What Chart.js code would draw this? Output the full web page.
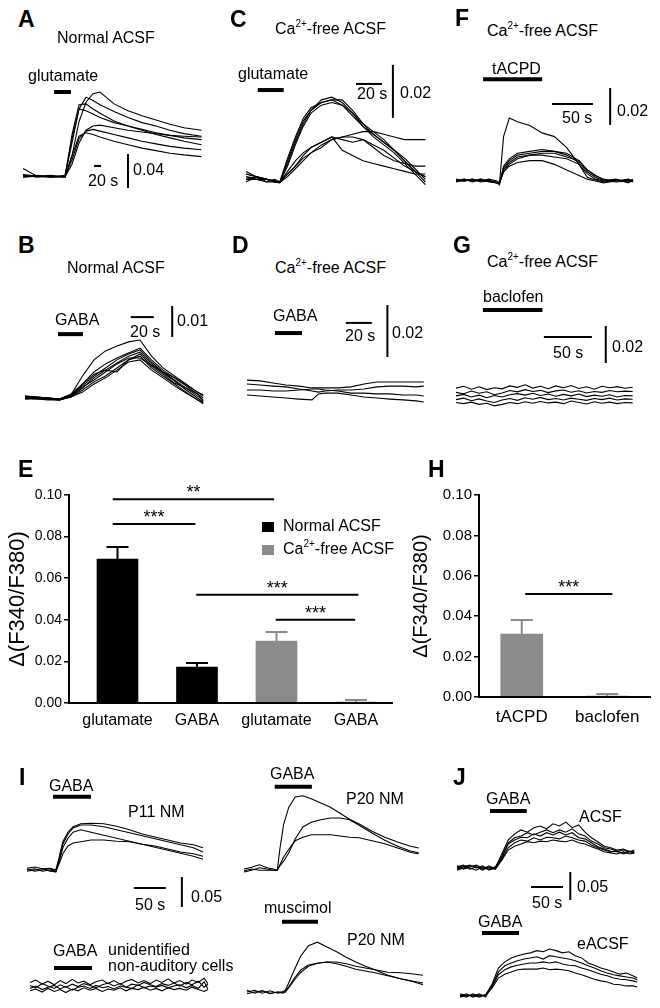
<!DOCTYPE html>
<html>
<head>
<meta charset="utf-8">
<script src="https://cdn.jsdelivr.net/npm/chart.js@4.4.0/dist/chart.umd.min.js"></script>
<style>
  body { margin: 0; background: #fff; }
  #page { position: relative; width: 660px; height: 1008px; overflow: hidden; font-family: "Liberation Sans", Arial, sans-serif; color: #000; }
  canvas { position: absolute; }
  .t { position: absolute; white-space: nowrap; line-height: 1; }
  .t sup { font-size: 10px; vertical-align: 0; position: relative; top: -7px; }
  .sq { position: absolute; width: 12px; height: 10px; }
</style>
</head>
<body>
<div id="page"></div>
<script>
// ---------- bar charts (E, H) ----------
const labelsE = ['glutamate', 'GABA', 'glutamate', 'GABA'];
const meanE = [0.0692, 0.0173, 0.0298, 0.0005];
const semE = [0.0058, 0.0019, 0.0043, 0.0010];
const groupE = [0, 0, 1, 1];
const groupNamesE = ['Normal ACSF', 'Ca2+-free ACSF'];
const legendE = ['Normal ACSF', 'Ca<sup>2+</sup>-free ACSF'];
const colorsE = ['#000000', '#8a8a8a'];
// significance bars: from, to (bar index), height, text
const sigFromE = [-0.06, -0.06, 0.99, 1.99];
const sigToE = [1.97, 0.98, 3.03, 2.99];
const sigYE = [0.098, 0.086, 0.052, 0.040];
const sigTextE = ['**', '***', '***', '***'];

const labelsH = ['tACPD', 'baclofen'];
const meanH = [0.0312, 0.0005];
const semH = [0.0069, 0.0010];
const sigFromH = [0.04];
const sigToH = [1.06];
const sigYH = [0.051];
const sigTextH = ['***'];

// ---------- traces (time in s, value = delta F340/F380) ----------
// A  glutamate, normal ACSF
const timesA = [0, 40, 80, 120, 140, 160, 180, 200, 220, 260, 300, 340, 380, 420, 460, 510];
const tracesA = [
  [0.002, 0, 0.001, 0, 0.025, 0.065, 0.088, 0.098, 0.100, 0.086, 0.078, 0.072, 0.067, 0.062, 0.058, 0.055],
  [0, 0.002, 0, 0.001, 0.040, 0.080, 0.094, 0.090, 0.085, 0.077, 0.070, 0.064, 0.060, 0.055, 0.051, 0.048],
  [0.010, 0.001, 0.002, 0, 0.050, 0.085, 0.086, 0.080, 0.075, 0.066, 0.060, 0.055, 0.050, 0.046, 0.042, 0.038],
  [0, 0.001, 0, 0.002, 0.045, 0.080, 0.078, 0.074, 0.070, 0.064, 0.060, 0.056, 0.052, 0.049, 0.046, 0.044],
  [0.002, 0, 0.001, 0, 0.015, 0.040, 0.055, 0.060, 0.061, 0.058, 0.055, 0.053, 0.051, 0.049, 0.048, 0.047],
  [0, 0.001, 0, 0.001, 0.020, 0.045, 0.054, 0.056, 0.054, 0.050, 0.046, 0.042, 0.039, 0.036, 0.034, 0.032],
  [0.003, 0.001, 0, 0, 0.025, 0.048, 0.052, 0.050, 0.047, 0.042, 0.038, 0.034, 0.031, 0.028, 0.026, 0.024]
];
const stimA = [89, 137, 0.100];
const scaleA = [203, 0.013, 20, 300, -0.013, 0.04];

// C  glutamate, Ca-free
const timesC = [0, 8, 16, 22, 26, 32, 38, 44, 50, 58, 66, 74, 82, 90, 98, 106, 114, 122, 130, 138];
const tracesC = [
  [0.002, 0.0015, 0.001, 0.0005, 0, 0.008, 0.016, 0.023, 0.027, 0.031, 0.032, 0.030, 0.026, 0.021, 0.018, 0.015, 0.012, 0.008, 0.004, 0.000],
  [0.003, 0.002, 0.001, 0, -0.0003, 0.007, 0.015, 0.022, 0.027, 0.030, 0.031, 0.031, 0.027, 0.022, 0.019, 0.016, 0.012, 0.009, 0.005, 0.001],
  [0.001, 0.002, 0, 0.001, 0, 0.009, 0.017, 0.024, 0.028, 0.030, 0.031, 0.029, 0.025, 0.021, 0.017, 0.014, 0.011, 0.007, 0.003, -0.001],
  [0.004, 0.002, 0.001, 0, 0, 0.006, 0.014, 0.021, 0.026, 0.029, 0.030, 0.029, 0.026, 0.022, 0.018, 0.015, 0.012, 0.008, 0.004, 0.002],
  [0.001, 0.001, 0, 0, 0, 0.003, 0.006, 0.009, 0.011, 0.013, 0.016, 0.017, 0.018, 0.019, 0.019, 0.018, 0.017, 0.016, 0.016, 0.016],
  [0.002, 0.001, 0.001, 0, 0, 0.004, 0.008, 0.011, 0.013, 0.015, 0.017, 0.016, 0.015, 0.016, 0.013, 0.010, 0.008, 0.007, 0.006, 0.006],
  [0, 0.002, 0.001, 0.0005, 0, 0.003, 0.006, 0.010, 0.013, 0.015, 0.017, 0.012, 0.010, 0.008, 0.007, 0.006, 0.005, 0.004, 0.003, 0.003],
  [0.003, 0.002, 0.001, 0, -0.0003, 0.002, 0.005, 0.008, 0.011, 0.014, 0.016, 0.017, 0.017, 0.016, 0.014, 0.012, 0.009, 0.006, 0.004, 0.002]
];
const stimC = [9, 29, 0.0347];
const scaleC = [84.6, 0.037, 20, 113, 0.0242, 0.02];

// F  tACPD, Ca-free
const timesF = [0, 10, 20, 30, 40, 50, 53, 58, 65, 75, 90, 105, 120, 135, 150, 160, 170, 180, 195, 210, 216];
const tracesF = [
  [0, 0.001, -0.0005, 0.0005, 0, -0.001, -0.0015, 0.024, 0.034, 0.032, 0.030, 0.026, 0.024, 0.018, 0.009, 0.002, 0.0005, -0.0005, 0.0005, -0.0005, 0],
  [0.001, 0, 0.001, 0, 0.0005, -0.001, -0.0015, 0.008, 0.012, 0.015, 0.016, 0.017, 0.016, 0.015, 0.011, 0.006, 0.003, 0.001, 0, 0.001, 0],
  [0, 0.001, 0, 0.001, -0.0005, -0.001, -0.002, 0.007, 0.011, 0.014, 0.015, 0.016, 0.016, 0.014, 0.010, 0.005, 0.002, 0, 0.001, -0.001, 0.0005],
  [0.0005, 0, 0.001, -0.0005, 0, -0.0005, -0.001, 0.006, 0.010, 0.013, 0.014, 0.015, 0.015, 0.013, 0.011, 0.006, 0.003, 0.0005, -0.0005, 0, 0.001],
  [-0.0005, 0.0005, 0, 0.001, 0, -0.001, -0.001, 0.005, 0.009, 0.012, 0.014, 0.014, 0.013, 0.012, 0.009, 0.004, 0.001, 0, 0.0005, 0, -0.0005],
  [0, 0, 0.0005, 0, 0.001, 0, -0.001, 0.005, 0.008, 0.010, 0.011, 0.011, 0.009, 0.006, 0.003, 0.001, 0, -0.001, 0, 0.0005, 0]
];
const stimF = [33, 105, 0.055];
const scaleF = [117, 0.0416, 50, 188, 0.0303, 0.02];

// B  GABA, normal ACSF
const timesB = [0, 10, 20, 30, 40, 50, 60, 70, 80, 90, 100, 110, 120, 130, 140, 150, 155];
const tracesB = [
  [0.0006, 0.0003, 0, -0.0003, 0.001, 0.0071, 0.0123, 0.0152, 0.0168, 0.0181, 0.0187, 0.0135, 0.0097, 0.0071, 0.0045, 0.0019, 0.0006],
  [0.0003, 0, -0.0003, -0.0006, 0.0006, 0.0045, 0.0084, 0.011, 0.0129, 0.0145, 0.0161, 0.0123, 0.009, 0.0065, 0.0039, 0.0013, 0],
  [0, 0.0003, 0, -0.0003, 0.001, 0.0039, 0.0071, 0.0097, 0.0123, 0.0142, 0.0155, 0.0116, 0.0084, 0.0058, 0.0032, 0.0006, -0.0006],
  [-0.0003, 0, -0.0003, -0.0006, 0.0006, 0.0032, 0.0065, 0.009, 0.0113, 0.0135, 0.0148, 0.011, 0.0081, 0.0055, 0.0026, 0, -0.0013],
  [0.0003, 0, 0, -0.0003, 0.0013, 0.0045, 0.0077, 0.009, 0.0084, 0.0123, 0.0142, 0.0103, 0.0077, 0.0048, 0.0032, 0.0013, -0.001],
  [0, -0.0003, -0.0003, -0.0006, 0.0003, 0.0026, 0.0052, 0.0071, 0.0097, 0.0123, 0.0135, 0.0097, 0.0071, 0.0045, 0.0019, -0.0006, -0.0019],
  [0.0006, 0.0003, 0, -0.0003, 0.0006, 0.0035, 0.0058, 0.0084, 0.011, 0.0129, 0.0129, 0.0106, 0.0084, 0.0065, 0.0042, 0.0019, 0.001],
  [-0.0003, -0.0003, -0.0006, -0.0006, 0.0003, 0.0019, 0.0045, 0.0065, 0.009, 0.0116, 0.0123, 0.009, 0.0065, 0.0039, 0.0016, -0.0006, -0.0016]
];
const stimB = [28.7, 50.4, 0.0206];
const scaleB = [92, 0.0261, 20, 128, 0.0197, 0.01];

// D  GABA, Ca-free
const timesD = [0, 10, 20, 30, 40, 50, 55, 60, 70, 80, 90, 100, 110, 120, 130, 136];
const tracesD = [
  [0.0038, 0.0035, 0.0027, 0.0019, 0.0015, 0.0008, 0.0008, 0.0008, 0.0008, 0.0012, 0.0023, 0.0031, 0.0031, 0.0031, 0.0031, 0.0031],
  [0.0023, 0.0019, 0.0015, 0.0012, 0.0004, -0.0004, -0.0008, -0.0004, 0, 0, 0.0004, 0.0012, 0.0015, 0.0015, 0.0012, 0.0015],
  [0, 0, -0.0004, -0.0004, 0, 0.0004, 0.0004, 0, -0.0004, -0.0012, -0.0012, -0.0015, -0.0015, -0.0019, -0.0019, -0.0023],
  [-0.0019, -0.0023, -0.0027, -0.0031, -0.0035, -0.0038, -0.0015, -0.0012, -0.0012, -0.0019, -0.0027, -0.0031, -0.0035, -0.0038, -0.0042, -0.0046]
];
const stimD = [21.5, 42.3, 0.0219];
const scaleD = [76, 0.0258, 20, 108, 0.0127, 0.02];

// G  baclofen, Ca-free
const timesG = [0, 8, 16, 24, 32, 40, 48, 56, 64, 72, 80, 88, 96, 104, 112, 120, 128, 136, 144, 152, 160, 168, 176, 184];
const tracesG = [
  [0.0048, 0.0058, 0.0042, 0.0055, 0.0040, 0.0050, 0.0044, 0.0060, 0.0052, 0.0066, 0.0048, 0.0058, 0.0045, 0.0060, 0.0050, 0.0062, 0.0046, 0.0055, 0.0042, 0.0058, 0.0050, 0.0056, 0.0047, 0.0053],
  [0.0025, 0.0018, 0.0032, 0.0020, 0.0028, 0.0012, 0.0022, 0.0035, 0.0028, 0.0040, 0.0030, 0.0036, 0.0024, 0.0033, 0.0038, 0.0026, 0.0034, 0.0022, 0.0030, 0.0025, 0.0035, 0.0028, 0.0032, 0.0030],
  [0.0006, 0.0014, 0.0000, 0.0010, -0.0004, 0.0008, 0.0000, 0.0012, 0.0018, 0.0010, 0.0020, 0.0008, 0.0016, 0.0004, 0.0014, 0.0006, 0.0016, 0.0002, 0.0010, 0.0004, 0.0012, 0.0000, 0.0008, 0.0006],
  [-0.0014, -0.0006, -0.0020, -0.0010, -0.0022, -0.0030, -0.0016, -0.0008, -0.0018, -0.0004, -0.0012, -0.0002, -0.0014, -0.0008, -0.0016, -0.0006, -0.0012, -0.0018, -0.0008, -0.0014, -0.0006, -0.0016, -0.0010, -0.0012],
  [-0.0030, -0.0036, -0.0028, -0.0040, -0.0034, -0.0048, -0.0040, -0.0030, -0.0036, -0.0026, -0.0034, -0.0024, -0.0032, -0.0028, -0.0036, -0.0022, -0.0030, -0.0038, -0.0026, -0.0034, -0.0028, -0.0036, -0.0030, -0.0032]
];
const stimG = [28, 90, 0.047];
const scaleG = [91.5, 0.0324, 50, 156, 0.0184, 0.02];

// I  P11 NM, GABA
const timesI1 = [0, 12, 24, 36, 45, 50, 56, 64, 72, 84, 100, 120, 140, 160, 180, 200, 220, 240, 260, 275];
const tracesI1 = [
  [0.003, 0.005, 0.002, 0.003, 0, 0.020, 0.047, 0.063, 0.072, 0.077, 0.078, 0.077, 0.073, 0.067, 0.060, 0.055, 0.050, 0.045, 0.042, 0.037],
  [-0.002, 0, 0.002, -0.002, -0.003, 0.017, 0.043, 0.060, 0.070, 0.075, 0.075, 0.072, 0.067, 0.062, 0.057, 0.052, 0.047, 0.042, 0.037, 0.030],
  [0.002, -0.002, 0, 0.002, -0.002, 0.013, 0.037, 0.053, 0.063, 0.067, 0.063, 0.058, 0.053, 0.048, 0.043, 0.038, 0.033, 0.028, 0.023, 0.018],
  [0, 0.002, -0.002, 0, -0.003, 0.010, 0.027, 0.040, 0.045, 0.047, 0.050, 0.050, 0.048, 0.047, 0.043, 0.040, 0.035, 0.030, 0.027, 0.023]
];
const stimI1 = [40.6, 100, 0.122];
const scaleI1 = [167, -0.030, 50, 242, -0.0617, 0.05];

// I  unidentified non-auditory cells, GABA
const timesI2 = [0, 9, 19, 28, 38, 47, 56, 66, 75, 84, 94, 103, 113, 122, 131, 141, 150, 159, 169, 178, 188, 197, 206, 216, 225, 234, 244, 253, 263, 272, 278];
const tracesI2 = [
  [0.006, 0.010, 0.003, 0.008, 0.002, 0.009, 0.004, 0.011, 0.005, 0.008, 0.002, 0.007, 0.010, 0.004, 0.009, 0.003, 0.008, 0.011, 0.005, 0.009, 0.004, 0.010, 0.006, 0.012, 0.005, 0.009, 0.003, 0.010, 0.006, 0.013, 0.004],
  [0.001, -0.003, 0.004, 0, -0.004, 0.002, -0.002, 0.003, -0.001, 0.004, 0.001, -0.003, 0.002, 0.005, 0, 0.004, -0.002, 0.003, 0.001, 0.006, 0.002, -0.001, 0.004, 0.001, 0.005, 0, 0.006, 0.002, 0.008, -0.002, 0.003],
  [-0.004, 0, -0.006, -0.002, 0.001, -0.005, -0.001, -0.007, -0.002, 0, -0.004, 0.001, -0.003, -0.001, -0.005, 0, -0.002, -0.004, 0.002, -0.003, 0, -0.002, 0.001, -0.003, 0, 0.002, -0.003, 0.001, -0.004, 0.007, -0.005],
  [-0.008, -0.005, -0.010, -0.004, -0.009, -0.006, -0.011, -0.005, -0.008, -0.003, -0.007, -0.004, -0.009, -0.005, -0.007, -0.003, -0.008, -0.004, -0.006, -0.002, -0.007, -0.004, -0.008, -0.003, -0.006, -0.004, -0.007, -0.002, -0.006, -0.009, -0.006]
];
const stimI2 = [37.5, 96.9, 0.030];

// I  P20 NM, GABA
const timesI3 = [0, 12, 24, 36, 46, 52, 56, 62, 70, 80, 92, 105, 120, 135, 150, 165, 180, 200, 220, 240, 260, 273];
const tracesI3 = [
  [0, 0.003, 0.007, 0.002, 0, -0.002, 0.033, 0.075, 0.103, 0.120, 0.122, 0.117, 0.110, 0.103, 0.093, 0.083, 0.075, 0.063, 0.053, 0.045, 0.038, 0.035],
  [-0.005, -0.002, 0.002, 0, -0.002, -0.002, 0.005, 0.013, 0.027, 0.050, 0.070, 0.078, 0.082, 0.085, 0.085, 0.082, 0.073, 0.060, 0.048, 0.038, 0.030, 0.027],
  [-0.003, 0, -0.002, -0.002, -0.002, -0.002, 0.007, 0.020, 0.033, 0.047, 0.053, 0.057, 0.057, 0.057, 0.055, 0.053, 0.052, 0.047, 0.042, 0.035, 0.028, 0.025]
];
const stimI3 = [48, 106, 0.137];

// I  P20 NM, muscimol
const timesI4 = [0, 12, 24, 36, 48, 56, 60, 66, 74, 84, 96, 110, 125, 140, 155, 170, 185, 200, 220, 240, 260, 275];
const tracesI4 = [
  [0.003, -0.002, 0.002, -0.003, 0, 0, 0.003, 0.017, 0.037, 0.060, 0.077, 0.083, 0.075, 0.067, 0.058, 0.050, 0.043, 0.037, 0.028, 0.022, 0.017, 0.012],
  [0, 0.003, -0.002, 0.002, -0.002, 0, 0.002, 0.010, 0.023, 0.037, 0.045, 0.048, 0.050, 0.050, 0.047, 0.043, 0.040, 0.037, 0.033, 0.032, 0.030, 0.028],
  [-0.003, 0, 0.002, -0.002, 0, -0.002, 0, 0.008, 0.020, 0.033, 0.043, 0.048, 0.050, 0.047, 0.043, 0.038, 0.035, 0.032, 0.027, 0.022, 0.018, 0.015]
];
const stimI4 = [54.7, 111, 0.117];

// J  ACSF / eACSF, GABA
const timesJ = [0, 10, 20, 30, 40, 50, 60, 70, 80, 90, 100, 110, 120, 130, 140, 150, 160, 170, 180, 190, 200, 210, 220, 230, 240, 250, 260, 270, 277];
const tracesJ1 = [
  [0, 0.004, -0.002, 0.002, -0.004, 0.002, 0, 0.025, 0.050, 0.061, 0.068, 0.064, 0.072, 0.075, 0.070, 0.079, 0.075, 0.082, 0.072, 0.077, 0.064, 0.054, 0.047, 0.039, 0.036, 0.032, 0.034, 0.029, 0.030],
  [0.004, -0.002, 0.002, 0.005, 0, -0.002, 0.002, 0.021, 0.045, 0.054, 0.057, 0.063, 0.059, 0.064, 0.068, 0.063, 0.068, 0.064, 0.070, 0.061, 0.057, 0.048, 0.043, 0.036, 0.034, 0.030, 0.032, 0.029, 0.032],
  [-0.002, 0.002, 0.005, 0, 0.004, -0.004, 0, 0.018, 0.043, 0.050, 0.055, 0.054, 0.061, 0.057, 0.063, 0.059, 0.064, 0.059, 0.063, 0.054, 0.052, 0.045, 0.038, 0.034, 0.030, 0.029, 0.027, 0.030, 0.027],
  [0.002, 0.005, 0, -0.004, 0.002, 0, -0.002, 0.016, 0.036, 0.045, 0.050, 0.048, 0.054, 0.050, 0.055, 0.054, 0.052, 0.057, 0.054, 0.050, 0.048, 0.041, 0.036, 0.032, 0.029, 0.030, 0.025, 0.029, 0.027],
  [-0.004, 0, 0.004, 0.002, -0.002, 0.004, -0.002, 0.014, 0.032, 0.039, 0.043, 0.047, 0.045, 0.048, 0.047, 0.050, 0.048, 0.047, 0.050, 0.045, 0.043, 0.038, 0.034, 0.029, 0.027, 0.025, 0.029, 0.025, 0.027]
];
const stimJ1 = [51.6, 109, 0.102];
const scaleJ1 = [115.6, -0.034, 50, 177, -0.057, 0.05];
const tracesJ2 = [
  [0.002, -0.002, 0.004, 0, 0.002, 0.021, 0.050, 0.061, 0.068, 0.072, 0.075, 0.077, 0.081, 0.079, 0.084, 0.081, 0.077, 0.079, 0.072, 0.068, 0.059, 0.055, 0.050, 0.047, 0.043, 0.039, 0.041, 0.036, 0.032],
  [-0.002, 0.002, 0, 0.004, -0.002, 0.018, 0.043, 0.054, 0.059, 0.063, 0.066, 0.068, 0.070, 0.066, 0.072, 0.070, 0.068, 0.066, 0.063, 0.059, 0.054, 0.050, 0.045, 0.041, 0.038, 0.036, 0.034, 0.032, 0.029],
  [0, 0.004, -0.002, 0.002, 0, 0.016, 0.038, 0.047, 0.052, 0.055, 0.057, 0.059, 0.059, 0.061, 0.059, 0.061, 0.057, 0.055, 0.054, 0.050, 0.047, 0.043, 0.039, 0.036, 0.032, 0.030, 0.029, 0.027, 0.025],
  [0.004, 0, 0.002, -0.002, 0.002, 0.014, 0.032, 0.039, 0.043, 0.047, 0.048, 0.048, 0.048, 0.050, 0.047, 0.048, 0.047, 0.045, 0.041, 0.038, 0.034, 0.030, 0.027, 0.025, 0.021, 0.020, 0.018, 0.018, 0.016]
];
const stimJ2 = [34.4, 92.2, 0.1125];

// ---------- layout (page pixels) ----------
// canvas box, pixel of t=0 / value 0, px per second, px per unit ratio
const layout = {
  A:  { left: 15,  top: 80,  w: 200, h: 120, x0: 23,  y0: 177, sx: 0.35, sy: 850 },
  C:  { left: 236, top: 55,  w: 200, h: 140, x0: 246, y0: 182, sx: 1.3,  sy: 2650 },
  F:  { left: 450, top: 70,  w: 205, h: 125, x0: 456, y0: 181, sx: 0.82, sy: 1850 },
  B:  { left: 15,  top: 295, w: 200, h: 115, x0: 25,  y0: 398, sx: 1.15, sy: 3100 },
  D:  { left: 236, top: 295, w: 200, h: 115, x0: 247, y0: 390, sx: 1.3,  sy: 2600 },
  G:  { left: 450, top: 295, w: 205, h: 120, x0: 456, y0: 397, sx: 0.96, sy: 1850 },
  I1: { left: 20,  top: 785, w: 210, h: 130, x0: 27,  y0: 870, sx: 0.64, sy: 600 },
  I2: { left: 20,  top: 960, w: 210, h: 45,  x0: 30,  y0: 986, sx: 0.64, sy: 600 },
  I3: { left: 238, top: 778, w: 195, h: 100, x0: 244, y0: 869, sx: 0.64, sy: 600 },
  I4: { left: 238, top: 915, w: 195, h: 90,  x0: 247, y0: 992, sx: 0.64, sy: 600 },
  J1: { left: 450, top: 800, w: 205, h: 108, x0: 457, y0: 868, sx: 0.64, sy: 560 },
  J2: { left: 450, top: 925, w: 205, h: 80,  x0: 460, y0: 996, sx: 0.64, sy: 560 }
};

// text: content, left, baseline, size, bold
const texts = [
  ['A', 18, 27, 23, 1], ['Normal ACSF', 57, 44, 16], ['glutamate', 28, 82, 16], ['20 s', 88, 187, 16], ['0.04', 133, 176, 16],
  ['C', 230, 27, 23, 1], ['Ca<sup>2+</sup>-free ACSF', 275, 35, 16], ['glutamate', 238, 80, 16], ['20 s', 357, 100, 16], ['0.02', 400, 99, 16],
  ['F', 455, 26, 23, 1], ['Ca<sup>2+</sup>-free ACSF', 487, 37, 16], ['tACPD', 492, 75, 16], ['50 s', 562, 124, 16], ['0.02', 617, 117, 16],
  ['B', 18, 253, 23, 1], ['Normal ACSF', 67, 274, 16], ['GABA', 55, 326, 16], ['20 s', 130, 338, 16], ['0.01', 177, 327, 16],
  ['D', 232, 253, 23, 1], ['Ca<sup>2+</sup>-free ACSF', 275, 274, 16], ['GABA', 273, 322, 16], ['20 s', 345, 342, 16], ['0.02', 392, 339, 16],
  ['G', 453, 253, 23, 1], ['Ca<sup>2+</sup>-free ACSF', 487, 268, 16], ['baclofen', 483, 303, 16], ['50 s', 553, 359, 16], ['0.02', 612, 353, 16],
  ['E', 18, 477, 23, 1], ['H', 428, 477, 23, 1],
  ['I', 19, 785, 23, 1], ['GABA', 49, 792, 16], ['P11 NM', 128, 818, 16], ['50 s', 135, 911, 16], ['0.05', 191, 903, 16],
  ['GABA', 53, 957, 16], ['unidentified', 108, 956, 16], ['non-auditory cells', 108, 972, 16],
  ['GABA', 270, 780, 16], ['P20 NM', 346, 805, 16], ['muscimol', 264, 914, 16], ['P20 NM', 347, 946, 16],
  ['J', 453, 785, 23, 1], ['GABA', 486, 805, 16], ['ACSF', 579, 823, 16], ['50 s', 532, 909, 16], ['0.05', 577, 893, 16],
  ['GABA', 478, 928, 16], ['eACSF', 577, 950, 16]
];

const FONT = '"Liberation Sans", Arial, sans-serif';
Chart.defaults.font.family = FONT;
Chart.defaults.color = '#000';
const page = document.getElementById('page');

function addCanvas(left, top, w, h) {
  const cv = document.createElement('canvas');
  cv.width = w;
  cv.height = h;
  cv.style.left = left + 'px';
  cv.style.top = top + 'px';
  page.appendChild(cv);
  return cv;
}

function seg(a, b, width) {
  return {
    data: [{ x: a[0], y: a[1] }, { x: b[0], y: b[1] }],
    borderColor: '#000', borderWidth: width, pointRadius: 0, borderCapStyle: 'butt'
  };
}

function tracePanel(key, times, traces, stim, scale) {
  const L = layout[key];
  const cv = addCanvas(L.left, L.top, L.w, L.h);
  const ds = traces.map(tr => ({
    data: tr.map((v, i) => ({ x: times[i], y: v })),
    borderColor: '#000', borderWidth: 1.1, pointRadius: 0, tension: 0
  }));
  ds.push(seg([stim[0], stim[2]], [stim[1], stim[2]], 4));
  if (scale) {
    ds.push(seg([scale[0], scale[1]], [scale[0] + scale[2], scale[1]], 2));
    ds.push(seg([scale[3], scale[4]], [scale[3], scale[4] + scale[5]], 2));
  }
  new Chart(cv, {
    type: 'line',
    data: { datasets: ds },
    options: {
      responsive: false, animation: false, events: [],
      layout: { padding: 0 },
      plugins: { legend: { display: false }, tooltip: { enabled: false } },
      scales: {
        x: { type: 'linear', display: false, min: (L.left - L.x0) / L.sx, max: (L.left + L.w - L.x0) / L.sx },
        y: { display: false, min: (L.y0 - L.top - L.h) / L.sy, max: (L.y0 - L.top) / L.sy }
      }
    }
  });
}

tracePanel('A', timesA, tracesA, stimA, scaleA);
tracePanel('C', timesC, tracesC, stimC, scaleC);
tracePanel('F', timesF, tracesF, stimF, scaleF);
tracePanel('B', timesB, tracesB, stimB, scaleB);
tracePanel('D', timesD, tracesD, stimD, scaleD);
tracePanel('G', timesG, tracesG, stimG, scaleG);
tracePanel('I1', timesI1, tracesI1, stimI1, scaleI1);
tracePanel('I2', timesI2, tracesI2, stimI2);
tracePanel('I3', timesI3, tracesI3, stimI3);
tracePanel('I4', timesI4, tracesI4, stimI4);
tracePanel('J1', timesJ, tracesJ1, stimJ1, scaleJ1);
tracePanel('J2', timesJ, tracesJ2, stimJ2);

// error bars + stars, drawn with the chart's own scales
function annotPlugin(mean, sem, colorOf, sigFrom, sigTo, sigY, sigText, cap) {
  return {
    id: 'annot',
    afterDatasetsDraw(chart) {
      const { ctx, scales: { x, y } } = chart;
      ctx.save();
      ctx.lineWidth = 2;
      mean.forEach((m, i) => {
        const px = x.getPixelForValue(i);
        const top = y.getPixelForValue(m + sem[i]);
        ctx.strokeStyle = colorOf(i);
        ctx.beginPath();
        ctx.moveTo(px, y.getPixelForValue(m));
        ctx.lineTo(px, top);
        ctx.moveTo(px - cap, top);
        ctx.lineTo(px + cap, top);
        ctx.stroke();
      });
      ctx.fillStyle = '#000';
      ctx.font = '18px ' + FONT;
      ctx.textAlign = 'center';
      ctx.textBaseline = 'alphabetic';
      sigText.forEach((s, i) => {
        ctx.fillText(s, x.getPixelForValue((sigFrom[i] + sigTo[i]) / 2), y.getPixelForValue(sigY[i]) - 1);
      });
      ctx.restore();
    }
  };
}

function sigLines(sigFrom, sigTo, sigY) {
  return sigY.map((yv, i) => ({
    type: 'line', data: [{ x: sigFrom[i], y: yv }, { x: sigTo[i], y: yv }],
    borderColor: '#000', borderWidth: 2, pointRadius: 0, borderCapStyle: 'butt'
  }));
}

function barOptions(o) {
  return {
    responsive: false, animation: false, events: [],
    layout: { padding: { top: 25, right: o.padRight, left: 0, bottom: 0 } },
    plugins: { legend: { display: false }, tooltip: { enabled: false } },
    scales: {
      x: {
        type: 'linear', offset: false, min: o.xmin, max: o.xmax,
        afterBuildTicks: s => { s.ticks = o.labels.map((_, i) => ({ value: i })); },
        afterFit: s => { s.height = o.xh; },
        ticks: { callback: v => o.labels[v], autoSkip: false, maxRotation: 0, font: { size: o.xfont }, color: '#000', padding: o.xpad },
        grid: { display: false, drawTicks: false },
        border: { display: true, color: '#000', width: 2, z: 1 }
      },
      y: {
        min: 0, max: 0.1,
        afterFit: s => { s.width = o.yw; },
        ticks: { stepSize: 0.02, callback: v => v.toFixed(2), font: { size: o.yfont }, color: '#000', padding: 2 },
        grid: { display: true, drawOnChartArea: false, drawTicks: true, tickLength: 5, color: '#000', lineWidth: 1.5 },
        border: { display: true, color: '#000', width: 2, z: 1 },
        title: { display: true, text: 'Δ(F340/F380)', font: { size: o.tfont }, color: '#000', padding: { top: o.tpad, bottom: 0 } }
      }
    }
  };
}

// E
const cvE = addCanvas(0, 470, 400, 270);
const dsE = [0, 1].map(g => ({
  type: 'bar', label: groupNamesE[g],
  data: meanE.map((v, i) => ({ x: i, y: v, g: groupE[i] })).filter(d => d.g === g),
  backgroundColor: colorsE[g], barThickness: 41, grouped: false, borderWidth: 0
})).concat(sigLines(sigFromE, sigToE, sigYE));
new Chart(cvE, {
  type: 'bar',
  data: { datasets: dsE },
  options: barOptions({ labels: labelsE, xmin: -0.61, xmax: 3.453, padRight: 8, xh: 37, yw: 69, xfont: 16, yfont: 14, tfont: 22, tpad: 5, xpad: 8 }),
  plugins: [annotPlugin(meanE, semE, i => colorsE[groupE[i]], sigFromE, sigToE, sigYE, sigTextE, 11)]
});

// E legend
legendE.forEach((name, g) => {
  const sq = document.createElement('div');
  sq.className = 'sq';
  sq.style.left = '262px';
  sq.style.top = (522 + g * 23) + 'px';
  sq.style.background = colorsE[g];
  page.appendChild(sq);
  texts.push([name, 283, 532 + g * 23, 16]);
});

// H
const cvH = addCanvas(400, 470, 260, 270);
const dsH = [{
  type: 'bar', label: 'Ca2+-free ACSF',
  data: meanH.map((v, i) => ({ x: i, y: v })),
  backgroundColor: colorsE[1], barThickness: 42, grouped: false, borderWidth: 0
}].concat(sigLines(sigFromH, sigToH, sigYH));
new Chart(cvH, {
  type: 'bar',
  data: { datasets: dsH },
  options: barOptions({ labels: labelsH, xmin: -0.5, xmax: 1.5, padRight: 10, xh: 43, yw: 79, xfont: 17, yfont: 15, tfont: 20, tpad: 9, xpad: 10 }),
  plugins: [annotPlugin(meanH, semH, () => colorsE[1], sigFromH, sigToH, sigYH, sigTextH, 11)]
});

// texts
texts.forEach(([s, x, base, size, bold]) => {
  const d = document.createElement('div');
  d.className = 't';
  d.innerHTML = s;
  d.style.left = x + 'px';
  d.style.top = (base - 0.846 * size) + 'px';
  d.style.fontSize = size + 'px';
  if (bold) d.style.fontWeight = 'bold';
  page.appendChild(d);
});
</script>
</body>
</html>
